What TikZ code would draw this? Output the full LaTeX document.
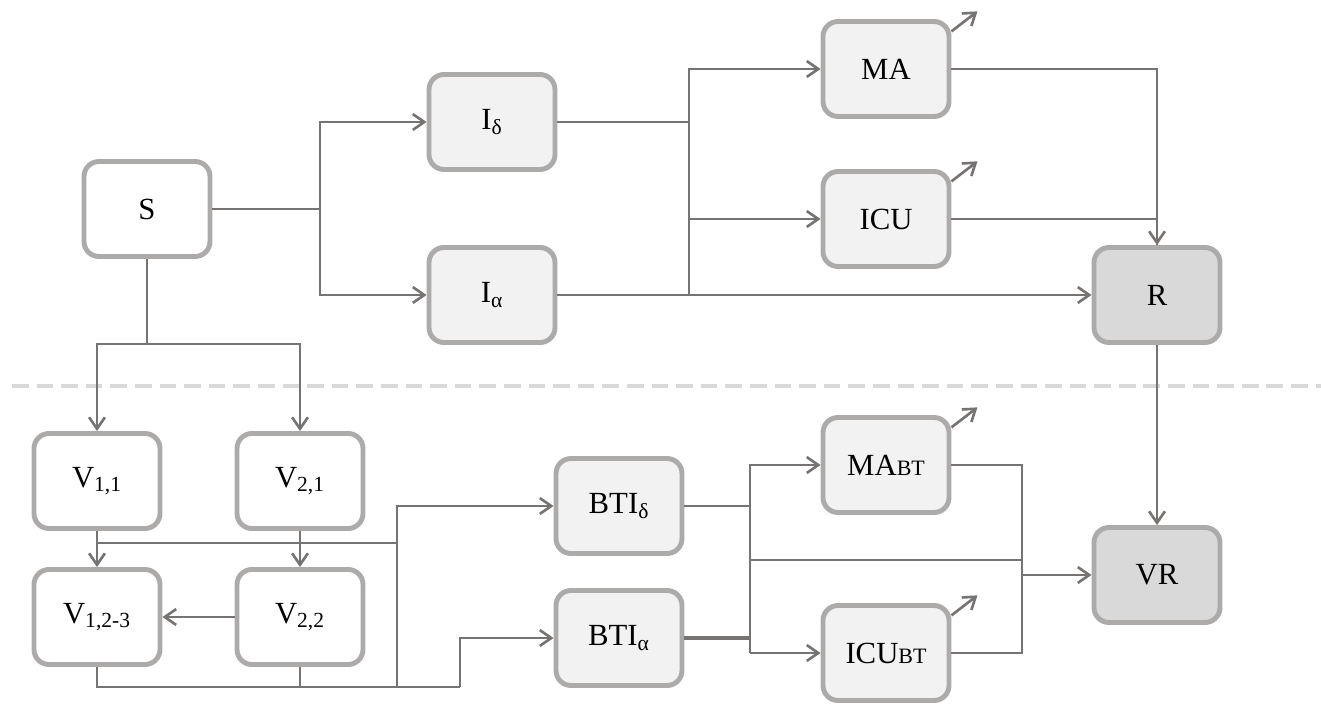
\documentclass[tikz,border=0pt]{standalone}
\usepackage{fontspec}
\setmainfont{Liberation Serif}
\usetikzlibrary{arrows.meta}

\definecolor{boxline}{HTML}{ADAAAA}
\definecolor{boxlight}{HTML}{F2F2F2}
\definecolor{boxdark}{HTML}{D9D9D9}
\definecolor{wire}{HTML}{767373}

\tikzset{
  box/.style={draw=boxline, line width=2.8pt, rounded corners=8.5pt,
    minimum width=2.52cm, minimum height=1.9cm, inner sep=2pt,
    font=\fontsize{17.5}{20}\selectfont},
  wbox/.style={box, fill=white},
  lbox/.style={box, fill=boxlight},
  dbox/.style={box, fill=boxdark},
  wire/.style={draw=wire, line width=1.5pt},
  >={Straight Barb[length=6.5pt,width=9pt]}
}
\newcommand{\bt}{{\fontsize{12.5}{14}\selectfont BT}}

\begin{document}
\begin{tikzpicture}[x=0.02cm, y=-0.02cm]
    \useasboundingbox (0,0) rectangle (1321,703);
    % Separator
    \draw[boxdark, line width=2.8pt, dash pattern=on 9.5pt off 4.5pt] (12,386) -- (1321,386);
    % Compartments
    \node[wbox] (S) at (147,209) {S};
    \node[lbox] (Id) at (492,122) {I\textsubscript{δ}};
    \node[lbox] (Ia) at (492,295) {I\textsubscript{α}};
    \node[lbox] (MA) at (886,69) {MA};
    \node[lbox] (ICU) at (886,219) {ICU};
    \node[dbox] (R) at (1157,295) {R};
    \node[wbox] (V11) at (97,481) {V\textsubscript{1,1}};
    \node[wbox] (V21) at (300,481) {V\textsubscript{2,1}};
    \node[wbox] (V123) at (97,617) {V\textsubscript{1,2-3}};
    \node[wbox] (V22) at (300,617) {V\textsubscript{2,2}};
    \node[lbox] (BTId) at (619,506) {BTI\textsubscript{δ}};
    \node[lbox] (BTIa) at (619,638) {BTI\textsubscript{α}};
    \node[lbox] (MABT) at (886,465) {MA\bt};
    \node[lbox] (ICUBT) at (886,653) {ICU\bt};
    \node[dbox] (VR) at (1157,575) {VR};
    % Junctions
    \coordinate (jS) at (320,209);
    \coordinate (jS2) at (147,344);
    \coordinate (jI) at (689,295);
    \coordinate (jV1) at (97,543);
    \coordinate (jV2) at (397,543);
    \coordinate (jMid) at (397,687);
    \coordinate (jBot) at (460,687);
    \coordinate (jBT) at (750,653);
    \coordinate (jBTm) at (750,560);
    \coordinate (jVR) at (1022,575);
    % Upper part
    \draw[wire] (S) -- (jS);
    \draw[wire, ->] (jS) |- (Id);
    \draw[wire, ->] (jS) |- (Ia);
    \draw[wire] (Id) -| (jI);
    \draw[wire, ->] (jI) |- (MA);
    \draw[wire, ->] (jI |- ICU) -- (ICU);
    \draw[wire, ->] (Ia) -- (R);
    \draw[wire, ->] (MA) -| (R);
    \draw[wire] (ICU) -| (R);
    \draw[wire, ->] (R) -- (VR);
    % Out-flows
    \foreach \n in {MA, ICU, MABT, ICUBT}
      \draw[wire, ->] ([yshift=-7pt]\n.north east) -- ++(26,-20);
    % Vaccinated part
    \draw[wire] (S) -- (jS2);
    \draw[wire, ->] (jS2) -| (V11);
    \draw[wire, ->] (jS2) -| (V21);
    \draw[wire, ->] (V11) -- (V123);
    \draw[wire, ->] (V21) -- (V22);
    \draw[wire, ->] (V22) -- (V123);
    \draw[wire] (jV1) -- (jV2);
    \draw[wire, ->] (jMid) |- (BTId);
    \draw[wire] (V123) |- (jBot);
    \draw[wire] (V22) -- (V22 |- jBot);
    \draw[wire, ->] (jBot) |- (BTIa);
    % Breakthrough infections
    \draw[wire] (BTId) -- (BTId -| jBT);
    \draw[wire, line width=2pt] (BTIa) -- (BTIa -| jBT);
    \draw[wire, ->] (jBT) |- (MABT);
    \draw[wire, ->] (jBT) -- (ICUBT);
    \draw[wire] (jBTm) -- (jBTm -| jVR);
    \draw[wire] (MABT) -| (jVR);
    \draw[wire] (ICUBT) -| (jVR);
    \draw[wire, ->] (jVR) -- (VR);
\end{tikzpicture}
\end{document}
